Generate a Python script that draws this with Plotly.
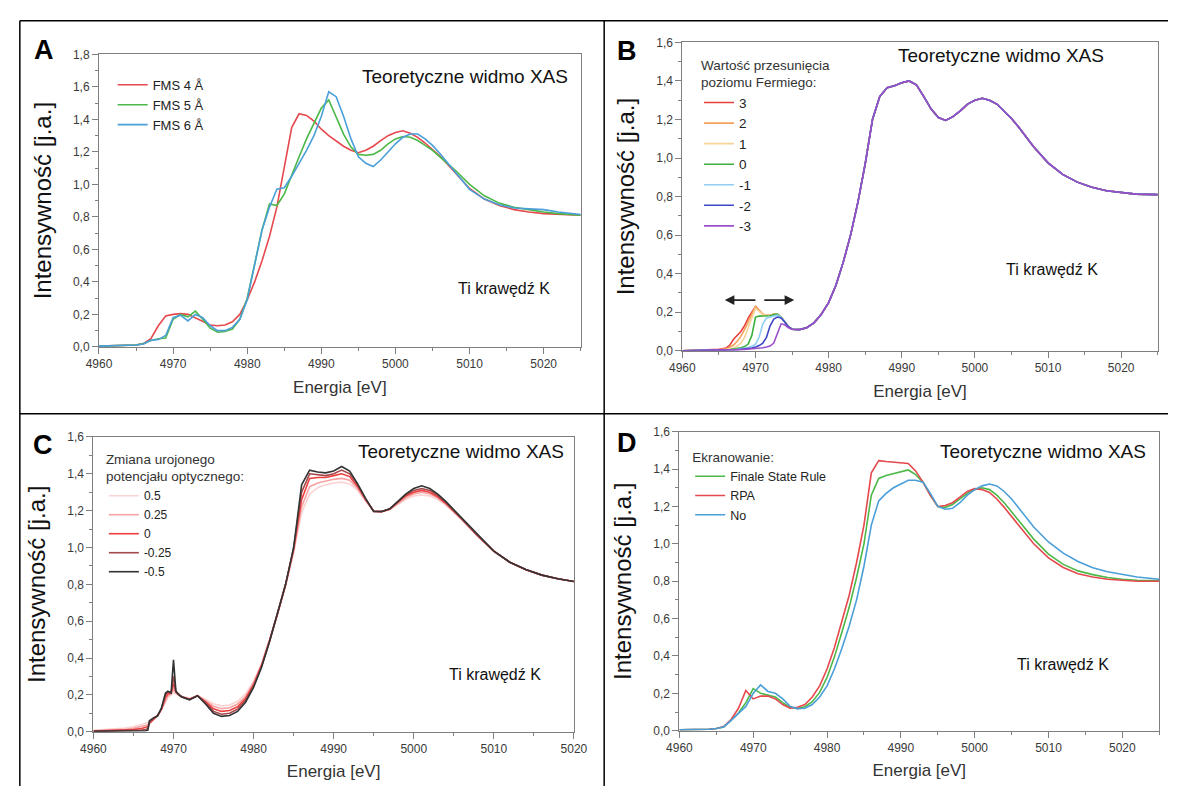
import plotly.graph_objects as go

W, H = 1182, 793

# ---------------- Panel A data ----------------
energy_a = [4960, 4963, 4965, 4966, 4967, 4968, 4969, 4970, 4971, 4972, 4973, 4974, 4975, 4976,
            4977, 4978, 4979, 4980, 4981, 4982, 4983, 4984, 4985, 4986, 4987, 4988, 4989, 4990,
            4991, 4992, 4993, 4994, 4995, 4996, 4997, 4998, 4999, 5000, 5001, 5002, 5003, 5004,
            5005, 5006, 5008, 5010, 5012, 5014, 5016, 5018, 5020, 5022, 5025]
fms4 = [0.005, 0.007, 0.012, 0.02, 0.05, 0.13, 0.19, 0.2, 0.205, 0.2, 0.18, 0.155, 0.135, 0.13,
        0.135, 0.155, 0.2, 0.29, 0.4, 0.53, 0.68, 0.86, 1.1, 1.35, 1.435, 1.425, 1.39, 1.34,
        1.30, 1.265, 1.235, 1.21, 1.195, 1.21, 1.235, 1.27, 1.30, 1.32, 1.33, 1.315, 1.29, 1.255,
        1.215, 1.175, 1.075, 0.975, 0.91, 0.87, 0.845, 0.83, 0.82, 0.815, 0.81]
fms5 = [0.005, 0.007, 0.012, 0.02, 0.04, 0.05, 0.055, 0.17, 0.2, 0.185, 0.22, 0.17, 0.115, 0.09,
        0.095, 0.11, 0.17, 0.3, 0.5, 0.72, 0.88, 0.87, 0.94, 1.06, 1.17, 1.28, 1.38, 1.47,
        1.52, 1.42, 1.31, 1.23, 1.185, 1.18, 1.185, 1.21, 1.25, 1.28, 1.295, 1.29, 1.27, 1.24,
        1.21, 1.17, 1.09, 1.0, 0.93, 0.885, 0.86, 0.845, 0.83, 0.82, 0.81]
fms6 = [0.005, 0.007, 0.012, 0.018, 0.04, 0.045, 0.07, 0.18, 0.195, 0.16, 0.2, 0.18, 0.13, 0.1,
        0.1, 0.12, 0.17, 0.29, 0.5, 0.72, 0.86, 0.97, 0.98, 1.05, 1.13, 1.21, 1.3, 1.42,
        1.57, 1.54, 1.42, 1.28, 1.17, 1.13, 1.11, 1.15, 1.2, 1.25, 1.29, 1.31, 1.31, 1.28,
        1.24, 1.19, 1.08, 0.97, 0.91, 0.875, 0.855, 0.85, 0.845, 0.83, 0.815]
names_a = ["FMS 4 Å", "FMS 5 Å", "FMS 6 Å"]
colors_a = ["#e5484d", "#4cb848", "#4a9fd8"]

# ---------------- Panel B data ----------------
energy_b_pre = [4960, 4963, 4965, 4966, 4966.5, 4967, 4967.5, 4968, 4968.5, 4969, 4969.5, 4970,
                4970.5, 4971, 4971.5, 4972, 4972.5, 4973, 4973.5, 4974, 4974.5]
energy_b_main = [4975, 4976, 4977, 4978, 4979, 4980, 4981, 4982, 4983, 4984, 4985, 4986, 4987,
                 4988, 4989, 4990, 4991, 4992, 4993, 4994, 4995, 4996, 4997, 4998, 4999, 5000,
                 5001, 5002, 5003, 5004, 5005, 5006, 5008, 5010, 5012, 5014, 5016, 5018, 5020,
                 5022, 5025]
xas_b_main = [0.112, 0.11, 0.12, 0.145, 0.19, 0.25, 0.34, 0.46, 0.6, 0.77, 0.97, 1.2, 1.32,
              1.365, 1.375, 1.39, 1.40, 1.38, 1.32, 1.255, 1.21, 1.195, 1.215, 1.245, 1.28, 1.30,
              1.31, 1.30, 1.28, 1.245, 1.205, 1.16, 1.06, 0.975, 0.915, 0.875, 0.848, 0.83, 0.82,
              0.813, 0.81]
fermi_p3 = [0.0, 0.003, 0.008, 0.015, 0.03, 0.06, 0.08, 0.1, 0.13, 0.17, 0.2, 0.23, 0.21, 0.19,
            0.185, 0.185, 0.19, 0.19, 0.175, 0.15, 0.125]
fermi_p2 = [0.0, 0.002, 0.006, 0.01, 0.018, 0.03, 0.05, 0.075, 0.11, 0.15, 0.19, 0.23, 0.21, 0.19,
            0.185, 0.185, 0.19, 0.19, 0.175, 0.15, 0.125]
fermi_p1 = [0.0, 0.002, 0.004, 0.007, 0.01, 0.015, 0.025, 0.04, 0.07, 0.12, 0.17, 0.22, 0.205,
            0.19, 0.185, 0.185, 0.19, 0.19, 0.175, 0.15, 0.125]
fermi_0 = [0.0, 0.001, 0.003, 0.005, 0.007, 0.009, 0.012, 0.016, 0.022, 0.035, 0.08, 0.175, 0.18,
           0.18, 0.18, 0.182, 0.188, 0.19, 0.175, 0.15, 0.125]
fermi_m1 = [0.0, 0.001, 0.002, 0.004, 0.005, 0.006, 0.008, 0.01, 0.013, 0.017, 0.023, 0.035, 0.07,
            0.14, 0.17, 0.175, 0.18, 0.185, 0.175, 0.15, 0.125]
fermi_m2 = [0.0, 0.001, 0.002, 0.003, 0.004, 0.005, 0.006, 0.008, 0.01, 0.012, 0.015, 0.02, 0.027,
            0.04, 0.07, 0.13, 0.165, 0.175, 0.17, 0.15, 0.125]
fermi_m3 = [0.0, 0.001, 0.002, 0.003, 0.003, 0.004, 0.005, 0.006, 0.007, 0.008, 0.01, 0.012,
            0.014, 0.016, 0.02, 0.025, 0.04, 0.09, 0.14, 0.135, 0.12]
names_b = ["3", "2", "1", "0", "-1", "-2", "-3"]
colors_b = ["#e8403f", "#f5a15c", "#f7d39a", "#3daf3d", "#90cff2", "#3e48c6", "#9b4fc9"]

# ---------------- Panel C data ----------------
energy_c = [4960, 4962, 4964, 4965, 4966, 4966.5, 4966.8, 4967, 4967.5, 4968, 4968.5, 4969,
            4969.3, 4969.7, 4970, 4970.3, 4970.7, 4971, 4972, 4973, 4974, 4975, 4976, 4977,
            4978, 4979, 4980, 4981, 4982, 4983, 4984, 4985, 4986, 4987, 4988, 4989, 4990, 4991,
            4992, 4993, 4994, 4995, 4996, 4997, 4998, 4999, 5000, 5001, 5002, 5003, 5004, 5005,
            5006, 5008, 5010, 5012, 5014, 5016, 5018, 5020]
opt_p050 = [0.008, 0.012, 0.02, 0.027, 0.038, 0.046, 0.052, 0.058, 0.072, 0.09, 0.12, 0.16,
            0.185, 0.2, 0.21, 0.205, 0.198, 0.192, 0.182, 0.195, 0.175, 0.152, 0.14, 0.145,
            0.165, 0.205, 0.275, 0.37, 0.5, 0.64, 0.79, 0.97, 1.19, 1.29, 1.325, 1.34, 1.35, 1.355,
            1.345, 1.31, 1.25, 1.2, 1.195, 1.205, 1.235, 1.26, 1.28, 1.285, 1.28, 1.26, 1.23, 1.19,
            1.15, 1.06, 0.98, 0.92, 0.878, 0.85, 0.83, 0.815]
opt_p025 = [0.005, 0.008, 0.013, 0.018, 0.026, 0.033, 0.038, 0.05, 0.07, 0.088, 0.12, 0.17,
            0.195, 0.205, 0.23, 0.21, 0.198, 0.19, 0.178, 0.195, 0.168, 0.138, 0.125, 0.13,
            0.15, 0.19, 0.265, 0.365, 0.5, 0.64, 0.795, 0.98, 1.22, 1.33, 1.35, 1.36, 1.37, 1.375,
            1.365, 1.32, 1.255, 1.198, 1.195, 1.207, 1.24, 1.27, 1.29, 1.30, 1.29, 1.27, 1.235,
            1.195, 1.153, 1.062, 0.98, 0.92, 0.879, 0.85, 0.83, 0.815]
opt_0 = [0.003, 0.005, 0.008, 0.011, 0.017, 0.022, 0.027, 0.045, 0.068, 0.086, 0.122, 0.185,
         0.205, 0.21, 0.26, 0.215, 0.198, 0.19, 0.176, 0.195, 0.162, 0.124, 0.11, 0.115,
         0.135, 0.18, 0.255, 0.36, 0.495, 0.64, 0.8, 0.99, 1.26, 1.375, 1.38, 1.38, 1.39, 1.40,
         1.385, 1.33, 1.26, 1.197, 1.195, 1.208, 1.245, 1.28, 1.30, 1.31, 1.30, 1.275, 1.24,
         1.198, 1.155, 1.063, 0.98, 0.92, 0.879, 0.85, 0.83, 0.815]
opt_m025 = [0.002, 0.003, 0.005, 0.006, 0.009, 0.012, 0.016, 0.05, 0.072, 0.085, 0.125, 0.2,
            0.215, 0.21, 0.3, 0.218, 0.199, 0.19, 0.174, 0.195, 0.156, 0.11, 0.095, 0.1,
            0.122, 0.17, 0.248, 0.355, 0.492, 0.64, 0.8, 0.995, 1.30, 1.40, 1.395, 1.39, 1.40,
            1.42, 1.40, 1.34, 1.263, 1.196, 1.195, 1.209, 1.248, 1.285, 1.31, 1.32, 1.31, 1.283,
            1.245, 1.2, 1.158, 1.064, 0.98, 0.92, 0.88, 0.85, 0.83, 0.815]
opt_m050 = [0.002, 0.002, 0.003, 0.003, 0.004, 0.005, 0.008, 0.06, 0.075, 0.085, 0.13, 0.21,
            0.22, 0.21, 0.39, 0.22, 0.2, 0.19, 0.173, 0.195, 0.15, 0.1, 0.083, 0.088,
            0.11, 0.16, 0.24, 0.35, 0.49, 0.64, 0.8, 1.0, 1.34, 1.42, 1.41, 1.405, 1.415, 1.44,
            1.415, 1.345, 1.265, 1.195, 1.195, 1.21, 1.25, 1.29, 1.32, 1.335, 1.32, 1.29, 1.25,
            1.205, 1.16, 1.065, 0.98, 0.92, 0.88, 0.85, 0.83, 0.815]
names_c = ["0.5", "0.25", "0", "-0.25", "-0.5"]
colors_c = ["#fcd3d3", "#f7a3a3", "#ef3e3e", "#a4484a", "#333333"]

# ---------------- Panel D data ----------------
energy_d = [4960, 4962, 4964, 4965, 4966, 4967, 4968, 4969, 4970, 4971, 4972, 4973, 4974, 4975,
            4976, 4977, 4978, 4979, 4980, 4981, 4982, 4983, 4984, 4985, 4986, 4987, 4988, 4989,
            4990, 4991, 4992, 4993, 4994, 4995, 4996, 4997, 4998, 4999, 5000, 5001, 5002, 5003,
            5004, 5005, 5006, 5008, 5010, 5012, 5014, 5016, 5018, 5020, 5022, 5025]
scr_fsr = [0.005, 0.006, 0.008, 0.012, 0.02, 0.055, 0.095, 0.15, 0.225, 0.2, 0.19, 0.18, 0.15,
           0.125, 0.118, 0.128, 0.155, 0.205, 0.285, 0.395, 0.525, 0.66, 0.82, 1.0, 1.26, 1.35,
           1.365, 1.375, 1.385, 1.395, 1.37, 1.33, 1.26, 1.2, 1.195, 1.21, 1.24, 1.27, 1.29, 1.30,
           1.29, 1.26, 1.22, 1.17, 1.12, 1.025, 0.945, 0.89, 0.855, 0.835, 0.82, 0.81, 0.805, 0.803]
scr_rpa = [0.005, 0.006, 0.008, 0.012, 0.022, 0.06, 0.12, 0.215, 0.17, 0.185, 0.185, 0.17, 0.14,
           0.12, 0.125, 0.14, 0.18, 0.24, 0.33, 0.445, 0.58, 0.725, 0.9, 1.1, 1.38, 1.445, 1.44,
           1.438, 1.435, 1.43, 1.39, 1.33, 1.26, 1.2, 1.205, 1.22, 1.25, 1.28, 1.295, 1.29, 1.275,
           1.24, 1.195, 1.145, 1.095, 1.0, 0.925, 0.873, 0.84, 0.822, 0.81, 0.805, 0.8, 0.8]
scr_no = [0.005, 0.006, 0.008, 0.012, 0.02, 0.055, 0.09, 0.13, 0.2, 0.245, 0.21, 0.2, 0.17,
          0.13, 0.118, 0.12, 0.14, 0.18, 0.24, 0.33, 0.44, 0.56, 0.7, 0.88, 1.1, 1.23, 1.27, 1.3,
          1.32, 1.34, 1.34, 1.33, 1.27, 1.2, 1.185, 1.19, 1.22, 1.26, 1.29, 1.31, 1.32, 1.31,
          1.28, 1.24, 1.19, 1.09, 1.01, 0.95, 0.905, 0.872, 0.85, 0.835, 0.822, 0.81]
names_d = ["Finale State Rule", "RPA", "No"]
colors_d = ["#4cb848", "#e5484d", "#4a9fd8"]

FONT = "Liberation Sans, Arial, sans-serif"
fig = go.Figure()

def px_x(p):
    return p / W

def px_y(p):
    return 1 - p / H

for ys, nm, col in zip([fms4, fms5, fms6], names_a, colors_a):
    fig.add_trace(go.Scatter(x=energy_a, y=ys, mode="lines", name=nm,
                             line=dict(color=col, width=1.6), xaxis="x", yaxis="y",
                             legend="legend"))
for ys, nm, col in zip([fermi_p3, fermi_p2, fermi_p1, fermi_0, fermi_m1, fermi_m2, fermi_m3],
                       names_b, colors_b):
    fig.add_trace(go.Scatter(x=energy_b_pre + energy_b_main, y=ys + xas_b_main, mode="lines",
                             name=nm, line=dict(color=col, width=1.6), xaxis="x2", yaxis="y2",
                             legend="legend2"))
for ys, nm, col in zip([opt_p050, opt_p025, opt_0, opt_m025, opt_m050], names_c, colors_c):
    fig.add_trace(go.Scatter(x=energy_c, y=ys, mode="lines", name=nm,
                             line=dict(color=col, width=1.6), xaxis="x3", yaxis="y3",
                             legend="legend3"))
for ys, nm, col in zip([scr_fsr, scr_rpa, scr_no], names_d, colors_d):
    fig.add_trace(go.Scatter(x=energy_d, y=ys, mode="lines", name=nm,
                             line=dict(color=col, width=1.6), xaxis="x4", yaxis="y4",
                             legend="legend4"))

panels = {
    "1": (88, 581, 48.3, 346, [4960, 5025], [0, 1.8]),
    "2": (685, 1171.5, 36, 350, [4960, 5025], [0, 1.6]),
    "3": (82.3, 574, 437.7, 737.7, [4960, 5020], [0, 1.6]),
    "4": (682, 1173, 432.3, 736.7, [4960, 5025], [0, 1.6]),
}

axis_common = dict(showline=True, linecolor="#7f7f7f", linewidth=1, mirror=True,
                   ticks="outside", ticklen=6, tickcolor="#7f7f7f", tickwidth=1,
                   showgrid=False, zeroline=False,
                   tickfont=dict(family=FONT, size=12, color="#3a3a3a"))

layout_axes = {}
for k, (x0, x1, yt, yb, xr, yr) in panels.items():
    xa = "xaxis" if k == "1" else "xaxis" + k
    ya = "yaxis" if k == "1" else "yaxis" + k
    anchor_x = "y" if k == "1" else "y" + k
    anchor_y = "x" if k == "1" else "x" + k
    layout_axes[xa] = dict(axis_common, domain=[px_x(x0), px_x(x1)], anchor=anchor_x,
                           range=xr, dtick=10, tick0=4960, tickformat="d",
                           minor=dict(dtick=5, ticks="outside", ticklen=3, tickcolor="#7f7f7f"),
                           title=dict(text="Energia [eV]", standoff=10,
                                      font=dict(family=FONT, size=17, color="#333333")))
    layout_axes[ya] = dict(axis_common, domain=[px_y(yb), px_y(yt)], anchor=anchor_y,
                           range=yr, dtick=0.2, tick0=0, tickformat=".1f",
                           minor=dict(dtick=0.1, ticks="outside", ticklen=3, tickcolor="#7f7f7f"),
                           title=dict(text="Intensywność [j.a.]", standoff=14,
                                      font=dict(family=FONT, size=24, color="#111111")))

annotations = []
for letter, (lx, ly) in {"A": (32, 44), "B": (628, 45), "C": (31, 446), "D": (628, 444)}.items():
    annotations.append(dict(text="<b>%s</b>" % letter, x=px_x(lx), y=px_y(ly), xref="paper",
                            yref="paper", showarrow=False, xanchor="center", yanchor="middle",
                            font=dict(family=FONT, size=27, color="#000000")))
for (rx, cy) in [(570, 71), (1119, 49), (566, 452), (1162, 452)]:
    annotations.append(dict(text="Teoretyczne widmo XAS", x=px_x(rx), y=px_y(cy), xref="paper",
                            yref="paper", showarrow=False, xanchor="right", yanchor="middle",
                            font=dict(family=FONT, size=19, color="#111111")))
for (lx, cy) in [(453, 287), (1014, 267), (444, 680), (1025, 669)]:
    annotations.append(dict(text="Ti krawędź K", x=px_x(lx), y=px_y(cy), xref="paper",
                            yref="paper", showarrow=False, xanchor="left", yanchor="middle",
                            font=dict(family=FONT, size=16, color="#111111")))
annotations.append(dict(x=4965.8, y=0.263, ax=4970.2, ay=0.263, xref="x2", yref="y2",
                        axref="x2", ayref="y2", text="", showarrow=True, arrowhead=2,
                        arrowsize=1.2, arrowwidth=1.6, arrowcolor="#222222"))
annotations.append(dict(x=4975.3, y=0.263, ax=4971.0, ay=0.263, xref="x2", yref="y2",
                        axref="x2", ayref="y2", text="", showarrow=True, arrowhead=2,
                        arrowsize=1.2, arrowwidth=1.6, arrowcolor="#222222"))

shapes = []
border = dict(color="#000000", width=1.5)
shapes.append(dict(type="line", xref="paper", yref="paper", x0=px_x(7), x1=1, y0=px_y(14),
                   y1=px_y(14), line=border))
shapes.append(dict(type="line", xref="paper", yref="paper", x0=px_x(7), x1=px_x(7),
                   y0=0, y1=px_y(14), line=border))
shapes.append(dict(type="line", xref="paper", yref="paper", x0=px_x(605), x1=px_x(605),
                   y0=0, y1=px_y(14), line=border))
shapes.append(dict(type="line", xref="paper", yref="paper", x0=px_x(7), x1=1, y0=px_y(414),
                   y1=px_y(414), line=border))

legend_common = dict(bgcolor="rgba(0,0,0,0)", borderwidth=0, xanchor="left", yanchor="top",
                     font=dict(family=FONT, size=13, color="#222222"), tracegroupgap=0)

fig.update_layout(
    width=W, height=H,
    margin=dict(l=0, r=0, t=0, b=0),
    paper_bgcolor="white", plot_bgcolor="white",
    separators=", ",
    font=dict(family=FONT, color="#222222"),
    annotations=annotations,
    shapes=shapes,
    legend=dict(legend_common, x=px_x(102), y=px_y(64)),
    legend2=dict(legend_common, x=px_x(702), y=px_y(46),
                 font=dict(family=FONT, size=13.5, color="#222222"),
                 title=dict(text="Wartość przesunięcia<br>poziomu Fermiego:",
                            font=dict(family=FONT, size=13.5, color="#333333"))),
    legend3=dict(legend_common, x=px_x(93), y=px_y(447),
                 font=dict(family=FONT, size=12, color="#222222"),
                 title=dict(text="Zmiana urojonego<br>potencjału optycznego:",
                            font=dict(family=FONT, size=13.5, color="#333333"))),
    legend4=dict(legend_common, x=px_x(693), y=px_y(445),
                 font=dict(family=FONT, size=12.5, color="#222222"),
                 title=dict(text="Ekranowanie:",
                            font=dict(family=FONT, size=13.5, color="#333333"))),
    **layout_axes,
)

fig.write_html("out.html", config={"displayModeBar": False},
               post_script="document.body.style.margin='0px';document.body.style.overflow='hidden';")
